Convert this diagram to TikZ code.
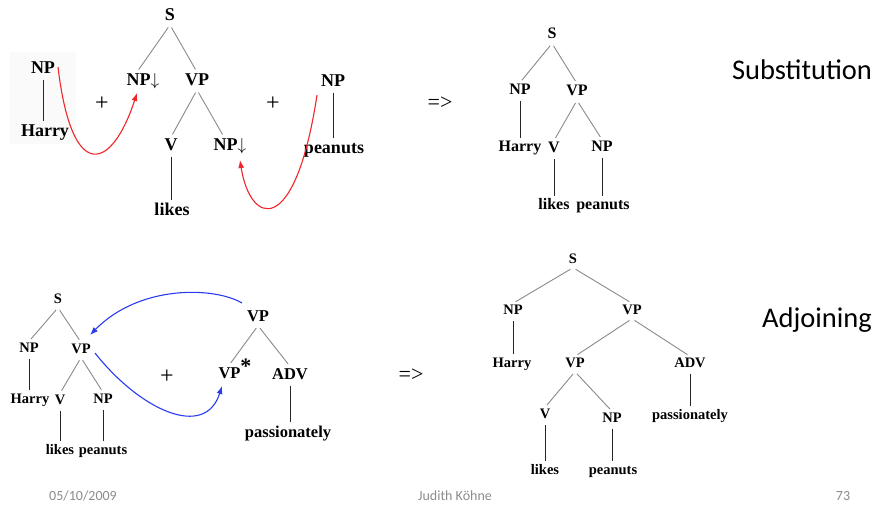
\documentclass[tikz,border=0pt]{standalone}
\usepackage{fontspec}
\setmainfont{Liberation Serif}
\newfontfamily\calib{Carlito}
\usetikzlibrary{arrows.meta}
\definecolor{edgegray}{HTML}{8A8A8A}
\definecolor{foot}{HTML}{8C8C8C}
\definecolor{redarr}{HTML}{F0262A}
\definecolor{bluearr}{HTML}{2A3CF0}
\tikzset{
  tl/.style={font=\fontsize{18}{18}\selectfont\bfseries, inner sep=1.5pt, text height=11.5pt, text depth=3pt},
  tr/.style={font=\fontsize{16}{16}\selectfont\bfseries, inner sep=1.5pt, text height=10.5pt, text depth=3pt},
  bl/.style={font=\fontsize{14.5}{14.5}\selectfont\bfseries, inner sep=1.5pt, text height=9.5pt, text depth=2.5pt},
  bm/.style={font=\fontsize{16.5}{16.5}\selectfont\bfseries, inner sep=1.5pt, text height=11pt, text depth=3pt},
  br/.style={font=\fontsize{14.5}{14.5}\selectfont\bfseries, inner sep=1.5pt, text height=9.5pt, text depth=2.5pt},
  edge/.style={draw=edgegray, line width=0.9pt, shorten <=3pt, shorten >=3pt},
  vedge/.style={draw=black!85, line width=0.8pt, shorten <=2pt, shorten >=2pt},
  plus/.style={font=\fontsize{24}{24}\selectfont, inner sep=0pt},
  impl/.style={font=\fontsize{22}{22}\selectfont, inner sep=0pt},
  title/.style={font=\calib\fontsize{28.5}{28.5}\selectfont, inner sep=0pt},
  footer/.style={font=\calib\fontsize{14}{14}\selectfont, text=foot, inner sep=0pt},
  redcurve/.style={draw=redarr, line width=1.1pt, -{Latex[length=8pt,width=6pt]}},
  bluecurve/.style={draw=bluearr, line width=1.1pt, -{Latex[length=8pt,width=6pt]}},
}
\begin{document}
\begin{tikzpicture}[x=1pt,y=-1pt]
\useasboundingbox (0,0) rectangle (879,507);
\fill[white] (0,0) rectangle (879,507);
\fill[black!2] (10,52) rectangle (76,144);

% ---------- Top left: substitution ingredients ----------
\node[tl] (hNP) at (43,69) {NP};
\node[tl] (hHarry) at (45,132) {Harry};
\draw[vedge] (hNP.south) -- (hNP.south |- hHarry.north);

\node[plus] (plus1) at (102,104) {+};

\node[tl] (aS) at (170,16) {S};
\node[tl] (aNP) at (143,81) {NP$\downarrow$};
\node[tl] (aVP) at (197,81) {VP};
\node[tl] (aV) at (171,146) {V};
\node[tl] (aNP2) at (230,146) {NP$\downarrow$};
\node[tl] (alikes) at (172,211) {likes};
\draw[edge] (aS.south) -- ([xshift=-6pt]aNP.north);
\draw[edge] (aS.south) -- (aVP.north);
\draw[edge] (aVP.south) -- (aV.north);
\draw[edge] (aVP.south) -- ([xshift=-6pt]aNP2.north);
\draw[vedge] (aV.south) -- (aV.south |- alikes.north);

\node[plus] (plus2) at (273,104) {+};

\node[tl] (pNP) at (333,82) {NP};
\node[tl] (ppeanuts) at (334,149) {peanuts};
\draw[vedge] (pNP.south) -- (pNP.south |- ppeanuts.north);

\node[impl] (impl1) at (440,103) {=>};

\coordinate (r1s) at (58,67);
\coordinate (r1e) at (137,93);
\draw[redcurve] (r1s) .. controls (72,185) and (112,170) .. (r1e);
\coordinate (r2s) at (317,95);
\coordinate (r2e) at (240,160);
\draw[redcurve] (r2s) .. controls (295,240) and (250,225) .. (r2e);

% ---------- Top right: substitution result ----------
\node[tr] (sS) at (552,35) {S};
\node[tr] (sNP) at (520,91) {NP};
\node[tr] (sVP) at (577,92) {VP};
\node[tr] (sHarry) at (520,148) {Harry};
\node[tr] (sV) at (554,149) {V};
\node[tr] (sNP2) at (602,148) {NP};
\node[tr] (slikes) at (554,206) {likes};
\node[tr] (speanuts) at (603,206) {peanuts};
\draw[edge] (sS.south) -- (sNP.north);
\draw[edge] (sS.south) -- (sVP.north);
\draw[vedge] (sNP.south) -- (sNP.south |- sHarry.north);
\draw[edge] (sVP.south) -- (sV.north);
\draw[edge] (sVP.south) -- (sNP2.north);
\draw[vedge] (sV.south) -- (sV.south |- slikes.north);
\draw[vedge] (sNP2.south) -- (sNP2.south |- speanuts.north);

\node[title] (subst) at (802,70) {Substitution};

% ---------- Bottom left: adjoining ingredients ----------
\node[bl] (bS) at (58,300) {S};
\node[bl] (bNP) at (29,349) {NP};
\node[bl] (bVP) at (81,350) {VP};
\node[bl] (bHarry) at (30,400) {Harry};
\node[bl] (bV) at (60,401) {V};
\node[bl] (bNP2) at (103,400) {NP};
\node[bl] (blikes) at (60,451) {likes};
\node[bl] (bpeanuts) at (103,451) {peanuts};
\draw[edge] (bS.south) -- (bNP.north);
\draw[edge] (bS.south) -- (bVP.north);
\draw[vedge] (bNP.south) -- (bNP.south |- bHarry.north);
\draw[edge] (bVP.south) -- (bV.north);
\draw[edge] (bVP.south) -- (bNP2.north);
\draw[vedge] (bV.south) -- (bV.south |- blikes.north);
\draw[vedge] (bNP2.south) -- (bNP2.south |- bpeanuts.north);

\node[plus] (plus3) at (167,377) {+};

\node[bm] (mVP) at (258,317) {VP};
\node[bm] (mVPs) at (235,374) {VP\raisebox{5pt}{\fontsize{22}{22}\selectfont *}};
\node[bm] (mADV) at (290,375) {ADV};
\node[bm] (mpass) at (288,433) {passionately};
\draw[edge] (mVP.south) -- ([xshift=-6pt]mVPs.north);
\draw[edge] (mVP.south) -- (mADV.north);
\draw[vedge] (mADV.south) -- (mADV.south |- mpass.north);

\node[impl] (impl2) at (411,375) {=>};

\coordinate (b1s) at (242,303);
\coordinate (b1e) at (90,335);
\draw[bluecurve] (b1s) .. controls (215,287) and (140,284) .. (b1e);
\coordinate (b2s) at (95,353);
\coordinate (b2e) at (222,386);
\draw[bluecurve] (b2s) .. controls (140,410) and (205,440) .. (b2e);

% ---------- Bottom right: adjoining result ----------
\node[br] (cS) at (573,260) {S};
\node[br] (cNP) at (513,311) {NP};
\node[br] (cVP) at (632,311) {VP};
\node[br] (cHarry) at (512,364) {Harry};
\node[br] (cVP2) at (575,364) {VP};
\node[br] (cADV) at (690,364) {ADV};
\node[br] (cV) at (545,415) {V};
\node[br] (cNP2) at (612,419) {NP};
\node[br] (cpass) at (690,416) {passionately};
\node[br] (clikes) at (545,471) {likes};
\node[br] (cpeanuts) at (613,471) {peanuts};
\draw[edge] (cS.south) -- (cNP.north);
\draw[edge] (cS.south) -- (cVP.north);
\draw[vedge] (cNP.south) -- (cNP.south |- cHarry.north);
\draw[edge] (cVP.south) -- (cVP2.north);
\draw[edge] (cVP.south) -- (cADV.north);
\draw[edge] (cVP2.south) -- (cV.north);
\draw[edge] (cVP2.south) -- (cNP2.north);
\draw[vedge] (cADV.south) -- (cADV.south |- cpass.north);
\draw[vedge] (cV.south) -- (cV.south |- clikes.north);
\draw[vedge] (cNP2.south) -- (cNP2.south |- cpeanuts.north);

\node[title] (adjoin) at (817,320) {Adjoining};

% ---------- Footer ----------
\node[footer] (fdate) at (83,496) {05/10/2009};
\node[footer] (fauth) at (455,496) {Judith Köhne};
\node[footer] (fpage) at (843,496) {73};
\end{tikzpicture}
\end{document}
